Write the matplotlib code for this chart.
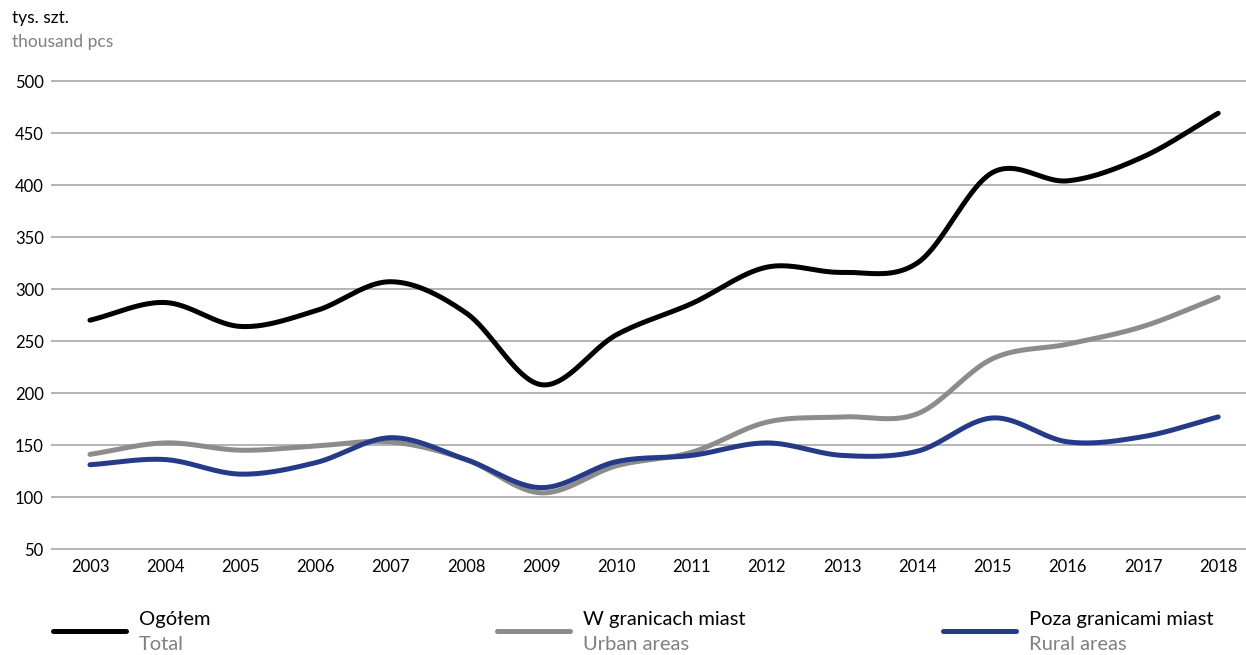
import numpy as np
import matplotlib.pyplot as plt
from matplotlib.lines import Line2D

plt.rcParams['font.family'] = ['Lato', 'DejaVu Sans']

# dane roczne, tys. szt.
years = list(range(2003, 2019))
total = [270, 287, 264, 279, 307, 277, 208, 256, 286, 321, 316, 325, 412, 404, 427, 469]
urban = [141, 152, 145, 149, 153, 136, 104, 130, 143, 172, 177, 180, 233, 247, 264, 292]
rural = [131, 136, 122, 133, 157, 136, 109, 134, 140, 152, 140, 144, 176, 153, 158, 177]

series_pl = ['Ogółem', 'W granicach miast', 'Poza granicami miast']
series_en = ['Total', 'Urban areas', 'Rural areas']
colors = ['#000000', '#8c8c8c', '#263a8a']
y_ticks = list(range(50, 501, 50))


def smooth(x, y, n=40):
    # wygładzona linia (Catmull-Rom) przez punkty roczne
    x = np.asarray(x, float)
    y = np.asarray(y, float)
    m = np.empty_like(y)
    m[1:-1] = (y[2:] - y[:-2]) / 2
    m[0] = y[1] - y[0]
    m[-1] = y[-1] - y[-2]
    xs, ys = [], []
    for i in range(len(x) - 1):
        t = np.linspace(0, 1, n, endpoint=False)
        h00 = 2*t**3 - 3*t**2 + 1
        h10 = t**3 - 2*t**2 + t
        h01 = -2*t**3 + 3*t**2
        h11 = t**3 - t**2
        xs.append(x[i] + t*(x[i+1] - x[i]))
        ys.append(h00*y[i] + h10*m[i] + h01*y[i+1] + h11*m[i+1])
    xs.append([x[-1]])
    ys.append([y[-1]])
    return np.concatenate(xs), np.concatenate(ys)


fig = plt.figure(figsize=(12.46, 6.55), dpi=100)
ax = fig.add_axes([52/1246, 1 - 549/655, 1 - 52/1246, (549 - 81)/655])

for vals, c in zip([total, urban, rural], colors):
    sx, sy = smooth(years, vals)
    ax.plot(sx, sy, color=c, lw=3.6, solid_capstyle='round', zorder=3)

ax.set_xlim(2002.495, 2018.37)
ax.set_ylim(50, 500)
ax.set_xticks(years)
ax.set_yticks(y_ticks)
ax.tick_params(axis='both', length=0, labelsize=12, colors='#000000')
ax.tick_params(axis='x', pad=7)
ax.tick_params(axis='y', pad=6)
ax.yaxis.grid(True, color='#b3b3b3', lw=1.4)
for gl in ax.get_ygridlines():
    gl.set_clip_on(False)
for s in ax.spines.values():
    s.set_visible(False)

fig.text(12/1246, 1 - 18/655, 'tys. szt.', fontsize=12.5, color='#000000', va='center')
fig.text(12/1246, 1 - 42/655, 'thousand pcs', fontsize=12.5, color='#808080', va='center')

# legenda pod wykresem
leg_x = [53, 497, 943]
for x0, c, pl, en in zip(leg_x, colors, series_pl, series_en):
    fig.add_artist(Line2D([x0/1246, (x0 + 73)/1246], [1 - 631/655] * 2,
                          color=c, lw=3.6, solid_capstyle='round'))
    fig.text((x0 + 86)/1246, 1 - 620/655, pl, fontsize=14.5, color='#000000', va='center')
    fig.text((x0 + 86)/1246, 1 - 645/655, en, fontsize=14.5, color='#808080', va='center')

fig.savefig('out.png', dpi=100)
